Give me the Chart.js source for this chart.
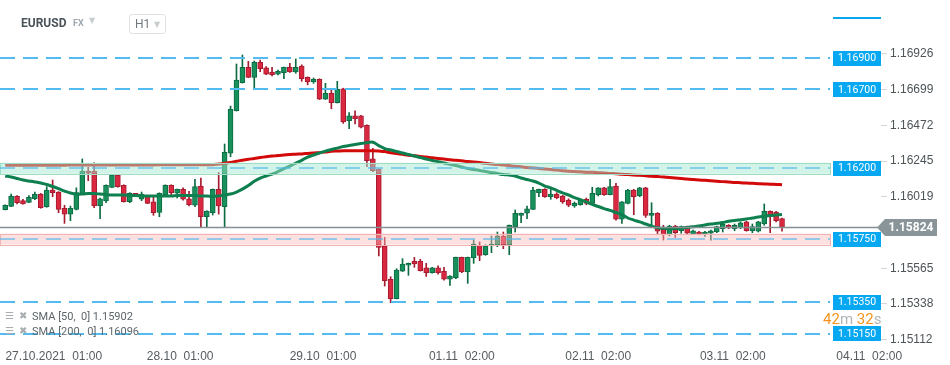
<!DOCTYPE html>
<html>
<head>
<meta charset="utf-8">
<script src="https://cdn.jsdelivr.net/npm/chart.js@4.4.0/dist/chart.umd.min.js"></script>
<style>
  body { margin: 0; background: #fff; font-family: Roboto, "Noto Sans", sans-serif; }
  #wrap { position: relative; width: 950px; height: 365px; overflow: hidden; }
  #chart { position: absolute; left: 0; top: 0; }
  .abs { position: absolute; white-space: pre; }
  .sym { font-weight: 700; font-size: 12px; color: #4a535a; left: 21px; top: 16px; }
  .fx { font-weight: 700; font-size: 9px; color: #9ea7ad; left: 73px; top: 18px; }
  .caret { position: absolute; font-size: 8px; color: #c8cdd0; font-family: "DejaVu Sans", sans-serif; }
  .tf { left: 129px; top: 14px; width: 35px; height: 18px; border: 1px solid #dfe3e5; border-radius: 3px; }
  .tf .lbl { position: absolute; left: 5px; top: 2px; font-size: 12px; color: #6f797f; }
  .leg { font-size: 11px; color: #5e666b; left: 32px; }
  .ico { font-size: 10px; color: #a8adb0; font-family: "DejaVu Sans", sans-serif; }
  .cd { left: 823px; top: 310px; font-size: 15px; color: #b0b5b8; }
  .cd b { font-weight: 400; color: #f7941d; }
</style>
</head>
<body>
<div id="wrap">
  <canvas id="chart" width="950" height="365"></canvas>
  <div class="abs sym">EURUSD</div>
  <div class="abs fx">FX</div>
  <div class="caret" style="left:89px;top:16px;">▼</div>
  <div class="abs tf"><span class="lbl">H1</span><span class="caret" style="left:24px;top:5px;">▼</span></div>
  <div class="abs ico" style="left:5px;top:310px;">☰</div>
  <div class="abs ico" style="left:19px;top:310px;">✖</div>
  <div class="abs leg" style="top:310px;">SMA [50,  0] 1.15902</div>
  <div class="abs ico" style="left:5px;top:325px;">☰</div>
  <div class="abs ico" style="left:19px;top:325px;">✖</div>
  <div class="abs leg" style="top:325px;">SMA [200,  0] 1.16096</div>
  <div class="abs cd"><b>42</b>m <b>32</b>s</div>
</div>
<script>
// hourly EURUSD candles, 26.10 evening -> 03.11 10:00
const opens = [1.15937,1.15958,1.16021,1.15994,1.15983,1.16006,1.16036,1.15956,1.16062,1.16049,
  1.15946,1.15908,1.15939,1.16036,1.16181,1.16181,1.15962,1.15992,1.16079,1.16157,
  1.16092,1.15987,1.16036,1.16003,1.16019,1.15986,1.15920,1.16030,1.16092,1.16041,
  1.16066,1.16006,1.15965,1.16087,1.15892,1.15918,1.16066,1.15956,1.16295,1.16565,
  1.16743,1.16841,1.16777,1.16873,1.16837,1.16811,1.16798,1.16807,1.16841,1.16811,
  1.16849,1.16777,1.16748,1.16765,1.16638,1.16676,1.16616,1.16705,1.16502,1.16532,
  1.16532,1.16473,1.16259,1.16193,1.15706,1.15495,1.15372,1.15546,1.15584,1.15609,
  1.15609,1.15567,1.15537,1.15567,1.15546,1.15495,1.15503,1.15634,1.15541,1.15630,
  1.15711,1.15651,1.15706,1.15711,1.15770,1.15711,1.15829,1.15901,1.15914,1.15939,
  1.16045,1.16066,1.16019,1.16036,1.16024,1.15998,1.15960,1.15968,1.16003,1.15977,
  1.16032,1.16075,1.16032,1.16087,1.15876,1.15977,1.16062,1.16024,1.16075,1.15901,
  1.15914,1.15816,1.15778,1.15833,1.15803,1.15829,1.15782,1.15795,1.15778,1.15787,
  1.15795,1.15816,1.15838,1.15816,1.15821,1.15859,1.15803,1.15800,1.15846,1.15927,
  1.15922,1.15880];
const highs = [1.15968,1.16036,1.16026,1.16003,1.16026,1.16049,1.16040,1.16083,1.16125,1.16052,
  1.15965,1.15960,1.16076,1.16259,1.16206,1.16235,1.16011,1.16095,1.16160,1.16160,
  1.16095,1.16045,1.16040,1.16049,1.16022,1.16015,1.16044,1.16095,1.16095,1.16068,
  1.16075,1.16054,1.16130,1.16138,1.15930,1.16068,1.16172,1.16354,1.16595,1.16862,
  1.16919,1.16879,1.16881,1.16887,1.16845,1.16841,1.16824,1.16843,1.16866,1.16894,
  1.16857,1.16780,1.16773,1.16768,1.16739,1.16701,1.16752,1.16708,1.16553,1.16565,
  1.16536,1.16476,1.16327,1.16196,1.15761,1.15511,1.15562,1.15626,1.15598,1.15634,
  1.15622,1.15596,1.15571,1.15580,1.15571,1.15518,1.15636,1.15636,1.15636,1.15744,
  1.15732,1.15714,1.15770,1.15795,1.15795,1.15840,1.15935,1.15916,1.15960,1.16079,
  1.16068,1.16070,1.16079,1.16045,1.16028,1.16006,1.15986,1.16003,1.16011,1.16079,
  1.16077,1.16079,1.16130,1.16104,1.15988,1.16066,1.16066,1.16079,1.16079,1.15981,
  1.15918,1.15838,1.15838,1.15838,1.15833,1.15833,1.15808,1.15800,1.15800,1.15808,
  1.15833,1.15854,1.15842,1.15846,1.15859,1.15863,1.15846,1.15863,1.15973,1.15930,
  1.15927,1.15884];
const lows = [1.15935,1.15956,1.15974,1.15972,1.15981,1.16000,1.15946,1.15952,1.16019,1.15918,
  1.15850,1.15867,1.15935,1.16036,1.16121,1.15949,1.15880,1.15981,1.16077,1.16080,
  1.15985,1.15981,1.16025,1.15994,1.15975,1.15901,1.15892,1.16028,1.16024,1.16011,
  1.15998,1.15960,1.15956,1.15825,1.15825,1.15903,1.15909,1.15825,1.16273,1.16563,
  1.16741,1.16775,1.16711,1.16813,1.16794,1.16786,1.16792,1.16769,1.16808,1.16803,
  1.16752,1.16730,1.16739,1.16636,1.16636,1.16578,1.16614,1.16485,1.16451,1.16481,
  1.16456,1.16210,1.16178,1.15643,1.15452,1.15346,1.15370,1.15544,1.15520,1.15571,
  1.15547,1.15513,1.15533,1.15528,1.15490,1.15456,1.15499,1.15537,1.15469,1.15596,
  1.15613,1.15647,1.15664,1.15702,1.15689,1.15651,1.15795,1.15854,1.15880,1.15937,
  1.16019,1.16015,1.16003,1.16006,1.15977,1.15956,1.15952,1.15965,1.15968,1.15975,
  1.16024,1.16028,1.16030,1.15871,1.15850,1.15973,1.15905,1.16019,1.15888,1.15829,
  1.15782,1.15744,1.15770,1.15761,1.15787,1.15782,1.15778,1.15776,1.15767,1.15744,
  1.15791,1.15795,1.15816,1.15803,1.15816,1.15800,1.15791,1.15795,1.15838,1.15791,
  1.15859,1.15800];
const closes = [1.15965,1.16023,1.15981,1.15974,1.16015,1.16036,1.15949,1.16062,1.16045,1.15939,
  1.15908,1.15946,1.16045,1.16181,1.16168,1.15962,1.16005,1.16092,1.16157,1.16083,
  1.15987,1.16041,1.16028,1.16036,1.15977,1.15918,1.16041,1.16092,1.16045,1.16066,
  1.16003,1.15968,1.16083,1.15892,1.15928,1.16066,1.15960,1.16301,1.16574,1.16760,
  1.16841,1.16777,1.16873,1.16832,1.16798,1.16794,1.16816,1.16841,1.16811,1.16841,
  1.16769,1.16748,1.16765,1.16638,1.16676,1.16616,1.16701,1.16494,1.16532,1.16515,
  1.16460,1.16248,1.16184,1.15698,1.15486,1.15372,1.15554,1.15592,1.15596,1.15592,
  1.15549,1.15537,1.15567,1.15537,1.15495,1.15516,1.15634,1.15541,1.15634,1.15719,
  1.15647,1.15706,1.15719,1.15770,1.15714,1.15838,1.15914,1.15914,1.15943,1.16062,
  1.16066,1.16019,1.16036,1.16011,1.15986,1.15965,1.15977,1.15998,1.15977,1.16041,
  1.16075,1.16032,1.16083,1.15876,1.15986,1.16062,1.16019,1.16075,1.15901,1.15914,
  1.15800,1.15778,1.15833,1.15791,1.15829,1.15787,1.15803,1.15782,1.15795,1.15803,
  1.15829,1.15846,1.15821,1.15838,1.15854,1.15803,1.15829,1.15859,1.15927,1.15901,
  1.15867,1.15824];

// moving averages, one value per candle
const sma50 = [1.16151,1.16144,1.16135,1.16125,1.16119,1.16113,1.16106,1.16097,1.16084,1.16071,
  1.16055,1.16043,1.16036,1.16036,1.16039,1.16039,1.16036,1.16033,1.16030,1.16030,
  1.16030,1.16027,1.16027,1.16024,1.16024,1.16024,1.16024,1.16024,1.16024,1.16027,
  1.16027,1.16027,1.16027,1.16024,1.16024,1.16021,1.16024,1.16030,1.16036,1.16049,
  1.16067,1.16090,1.16118,1.16138,1.16151,1.16163,1.16179,1.16198,1.16214,1.16233,
  1.16250,1.16271,1.16284,1.16297,1.16309,1.16319,1.16328,1.16338,1.16344,1.16351,
  1.16357,1.16362,1.16365,1.16344,1.16325,1.16316,1.16306,1.16297,1.16287,1.16278,
  1.16268,1.16259,1.16249,1.16242,1.16233,1.16225,1.16217,1.16208,1.16198,1.16192,
  1.16186,1.16179,1.16173,1.16167,1.16160,1.16157,1.16151,1.16138,1.16128,1.16119,
  1.16106,1.16087,1.16075,1.16059,1.16043,1.16030,1.16014,1.16001,1.15986,1.15970,
  1.15957,1.15944,1.15932,1.15919,1.15906,1.15884,1.15871,1.15859,1.15846,1.15833,
  1.15822,1.15819,1.15816,1.15817,1.15821,1.15824,1.15828,1.15833,1.15840,1.15846,
  1.15850,1.15855,1.15864,1.15868,1.15873,1.15878,1.15884,1.15890,1.15895,1.15900,
  1.15903,1.15906];
const sma200 = [1.16219,1.16219,1.16219,1.16219,1.16219,1.16219,1.16219,1.16219,1.16219,1.16219,
  1.16219,1.16221,1.16221,1.16221,1.16221,1.16221,1.16221,1.16221,1.16221,1.16221,
  1.16221,1.16221,1.16221,1.16221,1.16221,1.16221,1.16222,1.16222,1.16222,1.16222,
  1.16222,1.16222,1.16222,1.16222,1.16222,1.16222,1.16227,1.16231,1.16237,1.16244,
  1.16251,1.16257,1.16262,1.16268,1.16273,1.16277,1.16281,1.16284,1.16287,1.16289,
  1.16291,1.16294,1.16297,1.16299,1.16303,1.16308,1.16309,1.16311,1.16311,1.16311,
  1.16311,1.16311,1.16311,1.16309,1.16306,1.16298,1.16293,1.16288,1.16283,1.16279,
  1.16275,1.16271,1.16266,1.16262,1.16258,1.16254,1.16250,1.16247,1.16243,1.16240,
  1.16236,1.16231,1.16227,1.16223,1.16221,1.16217,1.16212,1.16209,1.16205,1.16202,
  1.16199,1.16195,1.16192,1.16188,1.16184,1.16181,1.16179,1.16177,1.16175,1.16174,
  1.16172,1.16170,1.16167,1.16165,1.16162,1.16160,1.16157,1.16155,1.16152,1.16149,
  1.16147,1.16144,1.16141,1.16138,1.16135,1.16132,1.16128,1.16125,1.16123,1.16120,
  1.16118,1.16115,1.16113,1.16110,1.16108,1.16106,1.16104,1.16102,1.16100,1.16099,
  1.16097,1.16095];

const yTicks = [1.16926, 1.16699, 1.16472, 1.16245, 1.16019, 1.15565, 1.15338, 1.15112];
const xTickPos = [8.2, 29.5, 53.6, 77.0, 100.0, 122.7, 145.7];
const xTickLabels = ['27.10.2021  01:00', '28.10  01:00', '29.10  01:00', '01.11  02:00', '02.11  02:00', '03.11  02:00', '04.11  02:00'];

const levels = [1.16900, 1.16700, 1.15350, 1.15150];
const zones = [1.16200, 1.15750];
const zoneColors = [['rgba(165,232,208,0.5)', '#9fdcc4'], ['rgba(250,186,186,0.45)', '#f2b3b3']];
const zoneHalf = 0.00035;
const lastPrice = 1.15824;

const UP = '#17905b', UP_EDGE = '#0c6b43', DN = '#da2840', DN_EDGE = '#a51a2e';
const isUp = i => closes[i] >= opens[i];

const overlays = {
  id: 'overlays',
  afterDatasetsDraw(chart) {
    const ctx = chart.ctx;
    const y = chart.scales.y;
    const x0 = 0, x1 = 830;
    ctx.save();
    // support / resistance zones
    zones.forEach((v, k) => {
      const top = y.getPixelForValue(v + zoneHalf);
      const bot = y.getPixelForValue(v - zoneHalf);
      ctx.fillStyle = zoneColors[k][0];
      ctx.fillRect(x0, top, x1 - x0, bot - top);
      ctx.strokeStyle = zoneColors[k][1];
      ctx.lineWidth = 1;
      ctx.strokeRect(x0 + 0.5, Math.round(top) + 0.5, x1 - x0, Math.round(bot - top));
    });
    // dashed levels
    ctx.setLineDash([15, 8]);
    ctx.lineWidth = 2;
    [...levels, ...zones].forEach(v => {
      const py = Math.round(y.getPixelForValue(v));
      ctx.strokeStyle = zones.includes(v) ? 'rgba(80,185,238,0.6)' : '#52bcf0';
      ctx.beginPath();
      ctx.moveTo(x0, py);
      ctx.lineTo(x1, py);
      ctx.stroke();
    });
    ctx.setLineDash([]);
    // last price line
    const ly = Math.round(y.getPixelForValue(lastPrice)) + 0.5;
    ctx.strokeStyle = '#858f94';
    ctx.lineWidth = 1.5;
    ctx.beginPath();
    ctx.moveTo(0, ly);
    ctx.lineTo(878, ly);
    ctx.stroke();
    // level tags
    ctx.font = '10.5px Roboto';
    ctx.textAlign = 'center';
    ctx.textBaseline = 'middle';
    [...levels, ...zones].forEach(v => {
      const py = y.getPixelForValue(v);
      ctx.fillStyle = '#07a8f2';
      ctx.fillRect(833, Math.round(py - 7.5), 48, 15);
      ctx.fillStyle = '#fff';
      ctx.fillText(v.toFixed(5), 857, py + 0.5);
    });
    // last price tag
    ctx.fillStyle = '#8a959a';
    ctx.beginPath();
    ctx.moveTo(877, ly);
    ctx.lineTo(885, ly - 8.5);
    ctx.lineTo(937, ly - 8.5);
    ctx.lineTo(937, ly + 8.5);
    ctx.lineTo(885, ly + 8.5);
    ctx.closePath();
    ctx.fill();
    ctx.fillStyle = '#fff';
    ctx.font = 'bold 12px Roboto';
    ctx.fillText(lastPrice.toFixed(5), 911, ly + 0.5);
    // small blue bar top right
    ctx.fillStyle = '#0aa6ee';
    ctx.fillRect(833, 17, 48, 2);
    ctx.restore();
  }
};

new Chart(document.getElementById('chart'), {
  type: 'bar',
  data: {
    datasets: [
      {
        type: 'line',
        data: sma50.map((v, i) => ({ x: i, y: v })),
        borderColor: '#0e7f4f',
        borderWidth: 3,
        pointRadius: 0,
        tension: 0.4,
        order: 0
      },
      {
        type: 'line',
        data: sma200.map((v, i) => ({ x: i, y: v })),
        borderColor: '#d30a0a',
        borderWidth: 3,
        pointRadius: 0,
        tension: 0.4,
        order: 1
      },
      {
        data: opens.map((o, i) => ({ x: i, y: [o, closes[i]] })),
        backgroundColor: opens.map((o, i) => isUp(i) ? UP : DN),
        borderColor: opens.map((o, i) => isUp(i) ? UP_EDGE : DN_EDGE),
        borderWidth: 1,
        borderSkipped: false,
        barThickness: 5,
        minBarLength: 2,
        grouped: false,
        order: 2
      },
      {
        data: lows.map((l, i) => ({ x: i, y: [l, highs[i]] })),
        backgroundColor: opens.map((o, i) => isUp(i) ? UP_EDGE : DN_EDGE),
        barThickness: 1,
        grouped: false,
        order: 3
      }
    ]
  },
  options: {
    responsive: false,
    animation: false,
    events: [],
    layout: { padding: { top: 40, left: 0, right: 0, bottom: 0 } },
    plugins: { legend: { display: false }, tooltip: { enabled: false } },
    scales: {
      x: {
        type: 'linear',
        offset: false,
        min: -0.877,
        max: 147.69,
        grid: { display: false, offset: false },
        border: { display: false },
        afterBuildTicks: s => { s.ticks = xTickPos.map(v => ({ value: v })); },
        afterFit: s => { s.height = 24; },
        ticks: {
          autoSkip: false,
          maxRotation: 0,
          padding: 0,
          color: '#555b5f',
          font: { size: 12 },
          callback: (v, i) => xTickLabels[i]
        }
      },
      y: {
        position: 'right',
        min: 1.15103,
        max: 1.170143,
        grid: { drawOnChartArea: false, drawTicks: true, tickLength: 6, color: '#d3d7d9' },
        border: { display: false },
        afterBuildTicks: s => { s.ticks = yTicks.map(v => ({ value: v })); },
        afterFit: s => { s.width = 69; },
        ticks: {
          padding: 3,
          color: '#4d5458',
          font: { size: 12 },
          callback: v => v.toFixed(5)
        }
      }
    }
  },
  plugins: [overlays]
});
</script>
</body>
</html>
